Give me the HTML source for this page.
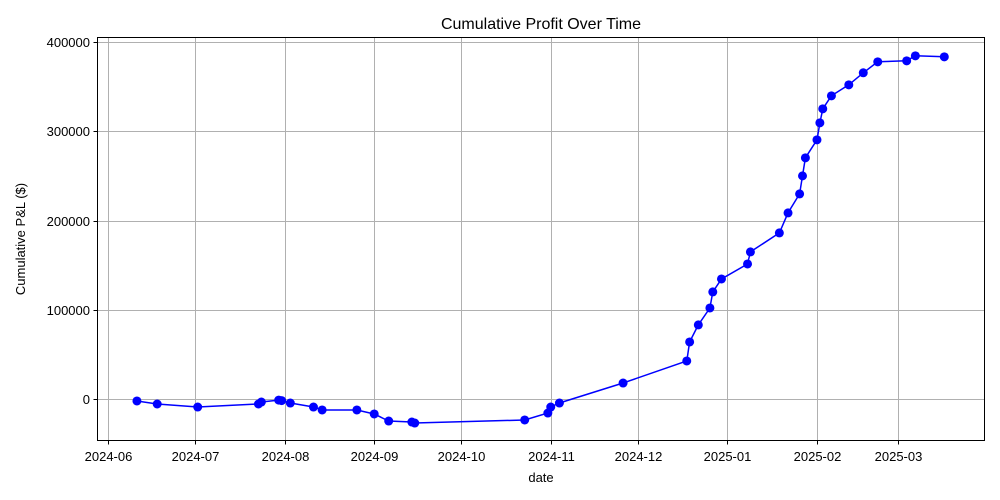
<!DOCTYPE html>
<html><head><meta charset="utf-8"><style>
html,body{margin:0;padding:0;background:#fff}
svg{display:block;font-family:"Liberation Sans","DejaVu Sans",sans-serif}
</style></head><body>
<svg id="chart" width="1000" height="500">
<rect x="0" y="0" width="1000" height="500" fill="#fff"/>
<text x="541" y="29" font-size="16" text-anchor="middle">Cumulative Profit Over Time</text>
<g id="grid"></g><g id="axes"></g><g id="series"></g>
<rect x="97.5" y="37.5" width="887" height="403" fill="none" stroke="#000" stroke-width="1"/>
<text x="541" y="482" font-size="13" text-anchor="middle">date</text>
<text transform="translate(25,239) rotate(-90)" font-size="13" text-anchor="middle">Cumulative P&amp;L ($)</text>
</svg>
<script>
const dates=["2024-06-11","2024-06-18","2024-07-02","2024-07-23","2024-07-24","2024-07-30","2024-07-31","2024-08-03","2024-08-11","2024-08-14","2024-08-26","2024-09-01","2024-09-06","2024-09-14","2024-09-15","2024-10-23","2024-10-31","2024-11-01","2024-11-04","2024-11-26","2024-12-18","2024-12-19","2024-12-22","2024-12-26","2024-12-27","2024-12-30","2025-01-08","2025-01-09","2025-01-19","2025-01-22","2025-01-26","2025-01-27","2025-01-28","2025-02-01","2025-02-02","2025-02-03","2025-02-06","2025-02-12","2025-02-17","2025-02-22","2025-03-04","2025-03-07","2025-03-17"];
const pnl=[-2200,-5600,-9000,-5600,-3400,-1200,-1800,-4500,-9000,-12300,-12300,-16800,-24700,-25800,-26900,-23500,-15700,-9000,-4500,17900,42600,63900,83000,102000,120000,134500,151300,164800,186100,208500,229800,250000,270200,290400,309400,325100,339700,352000,365500,377800,378900,384500,383400];
const xTicks=["2024-06","2024-07","2024-08","2024-09","2024-10","2024-11","2024-12","2025-01","2025-02","2025-03"];
const yTicks=[0,100000,200000,300000,400000];
const NS="http://www.w3.org/2000/svg";
const t0=Date.parse("2024-06-01"),t1=Date.parse("2025-03-01");
function xs(d){const t=Date.parse(d.length===7?d+"-01":d);return 108+(t-t0)/(t1-t0)*790;}
function ys(v){return 399-v*(357/400000);}
function mk(tag,attrs,parent){const e=document.createElementNS(NS,tag);for(const k in attrs)e.setAttribute(k,attrs[k]);parent.appendChild(e);return e;}
const grid=document.getElementById('grid'),axes=document.getElementById('axes'),ser=document.getElementById('series');
xTicks.forEach(d=>{const x=Math.round(xs(d))+0.5;
 const g=mk('line',{x1:x,x2:x,y1:37.5,y2:440.5,stroke:'#b0b0b0','stroke-width':1},grid);
 
 
 const tk=mk('line',{x1:x,x2:x,y1:440.5,y2:444.5,stroke:'#000'},axes);
 
 
 const t=mk('text',{x:x,y:461,'font-size':13,'text-anchor':'middle'},axes);t.textContent=d;
 
 
});
yTicks.forEach(v=>{const y=Math.round(ys(v))+0.5;
 const g=mk('line',{x1:97.5,x2:984.5,y1:y,y2:y,stroke:'#b0b0b0','stroke-width':1},grid);
 
 
 const tk=mk('line',{x1:93.5,x2:97.5,y1:y,y2:y,stroke:'#000'},axes);
 
 
 const t=mk('text',{x:90,y:y+4.5,'font-size':13,'text-anchor':'end'},axes);t.textContent=String(v);
 
 
});
const pts=dates.map((d,i)=>xs(d).toFixed(1)+","+ys(pnl[i]).toFixed(1)).join(" ");
const line=mk('polyline',{points:pts,fill:'none',stroke:'#0000ff','stroke-width':1.5},ser);


dates.forEach((d,i)=>{const c=mk('circle',{cx:xs(d),cy:ys(pnl[i]),r:4.5,fill:'#0000ff'},ser);
 
 
});
</script>
</body></html>
